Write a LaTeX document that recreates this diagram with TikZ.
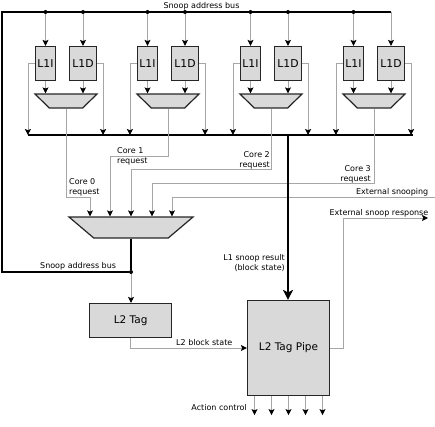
\documentclass[tikz,border=0pt]{standalone}
\usepackage{fontspec}
\setmainfont{DejaVu Sans}
\usetikzlibrary{arrows.meta,shapes.geometric,calc}
\begin{document}
\begin{tikzpicture}[x=1pt,y=-1pt,
  box/.style={draw=black!85,line width=1.2pt,fill=gray!30,inner sep=0pt},
  l1box/.style={box,minimum height=34pt,font=\fontsize{10.8}{12}\selectfont},
  l2box/.style={box,font=\fontsize{10.5}{12}\selectfont},
  muxshape/.style={trapezium,trapezium stretches=true,draw=black!85,line width=1.2pt,fill=gray!30,inner sep=1pt},
  sig/.style={draw=black!35,line width=0.8pt,-{Stealth[length=6pt,width=6pt,inset=1.2pt,color=black]}},
  bus/.style={draw=black,line width=1.6pt},
  bigbus/.style={bus,-{Stealth[length=10pt,width=10pt,inset=2.5pt]}},
  dot/.style={circle,fill=black,inner sep=0pt,minimum size=4pt},
  lbl/.style={inner sep=0pt,font=\fontsize{8}{10}\selectfont}]
\useasboundingbox (0,0) rectangle (435,426);

% bus coordinates
\coordinate (tl) at (2,12);
\coordinate (tr) at (391,12);
\coordinate (bl) at (2,272);
\coordinate (busL) at (28,135);
\coordinate (busR) at (413,135);
\coordinate (busmid) at (288,135);

% core groups
\foreach \i/\b in {1/35,2/137,3/240,4/343}{
  \node[l1box,minimum width=20pt] (l1i\i) at (\b+10.5,63.5) {L1I};
  \node[l1box,minimum width=27pt] (l1d\i) at (\b+48,63.5) {L1D};
  \node[muxshape,minimum width=62pt,minimum height=14pt,trapezium left angle=113.2,trapezium right angle=113.2] (mux\i) at (\b+31,101) {};
  \node[dot] (di\i) at (\b+10.5,12) {};
}
\foreach \i/\b in {1/35,2/137,3/240}{
  \node[dot] (dd\i) at (\b+48,12) {};
}

% buses
\draw[bus] (busL) -- (busR);
\node[muxshape,minimum width=124pt,minimum height=21pt,trapezium left angle=108.4,trapezium right angle=108.4] (lmux) at (131,227.5) {};
\node[dot] (jb) at (131,272) {};
\draw[bus] (lmux.south) -- (jb);
\draw[bus] (jb) -- (bl) -- (tl) -- (tr);

% L2 boxes
\node[l2box,minimum width=82pt,minimum height=34pt] (l2tag) at (130.6,320.5) {L2 Tag};
\node[l2box,minimum width=82pt,minimum height=95pt] (pipe) at (288.5,348) {L2 Tag Pipe};

% group connections
\foreach \i in {1,2,3,4}{
  \draw[sig] (di\i) -- (l1i\i.north);
  \draw[sig] (l1i\i.south) -- (l1i\i.south |- mux\i.north);
  \draw[sig] (l1d\i.south) -- (l1d\i.south |- mux\i.north);
  \draw[sig] (l1i\i.west) -| ([xshift=-7pt]l1i\i.west |- busL);
  \draw[sig] (l1d\i.east) -| ([xshift=6pt]l1d\i.east |- busL);
}
\foreach \i in {1,2,3}{
  \draw[sig] (dd\i) -- (l1d\i.north);
}
\draw[sig] (tr) -- (tr |- l1d4.north);

% requests to lower mux
\coordinate (k0) at (90,197);
\coordinate (k1) at (110,156);
\coordinate (k2) at (131,169);
\coordinate (k3) at (152,183);
\coordinate (k4) at (172,197);
\coordinate (ext) at (435,197);
\draw[sig] (mux1.south) |- (k0) -- (k0 |- lmux.north);
\draw[sig] (mux2.south) |- (k1) -- (k1 |- lmux.north);
\draw[sig] (mux3.south) |- (k2) -- (k2 |- lmux.north);
\draw[sig] (mux4.south) |- (k3) -- (k3 |- lmux.north);
\draw[sig] (ext) -- (k4) -- (k4 |- lmux.north);

% L1 snoop result
\draw[bigbus] (busmid) -- (busmid |- pipe.north);

% L2 connections
\draw[sig] (jb) -- (jb |- l2tag.north);
\draw[sig] (l2tag.south) |- (pipe.west);
\coordinate (k5) at (343,218);
\coordinate (resp) at (428,218);
\draw[sig] (pipe.east) -| (k5) -- (resp);
\foreach \dx/\n in {-34/a,-17/b,0/c,17/d,34/e}{
  \coordinate (act\n) at ([xshift=\dx pt]pipe.south);
  \coordinate (actend\n) at ($(act\n)+(0,19)$);
  \draw[sig] (act\n) -- (actend\n);
}

% labels
\node[lbl,anchor=base] (t1) at (201.5,8.5) {Snoop address bus};
\node[lbl,anchor=base west] (t2) at (40,268.5) {Snoop address bus};
\node[lbl,anchor=north west,align=left] (t3) at (69,178) {Core 0\\request};
\node[lbl,anchor=north west,align=left] (t4) at (117,147) {Core 1\\request};
\node[lbl,anchor=north east,align=right] (t5) at (270,151.5) {Core 2\\request};
\node[lbl,anchor=north east,align=right] (t6) at (371,165) {Core 3\\request};
\node[lbl,anchor=north east] (t7) at (428.5,188) {External snooping};
\node[lbl,anchor=north east] (t8) at (428.5,209) {External snoop response};
\node[lbl,anchor=north east,align=right] (t9) at (285,254) {L1 snoop result\\(block state)};
\node[lbl,anchor=north west] (t10) at (176,339) {L2 block state};
\node[lbl,anchor=north east] (t11) at (247,404) {Action control};
\end{tikzpicture}
\end{document}
